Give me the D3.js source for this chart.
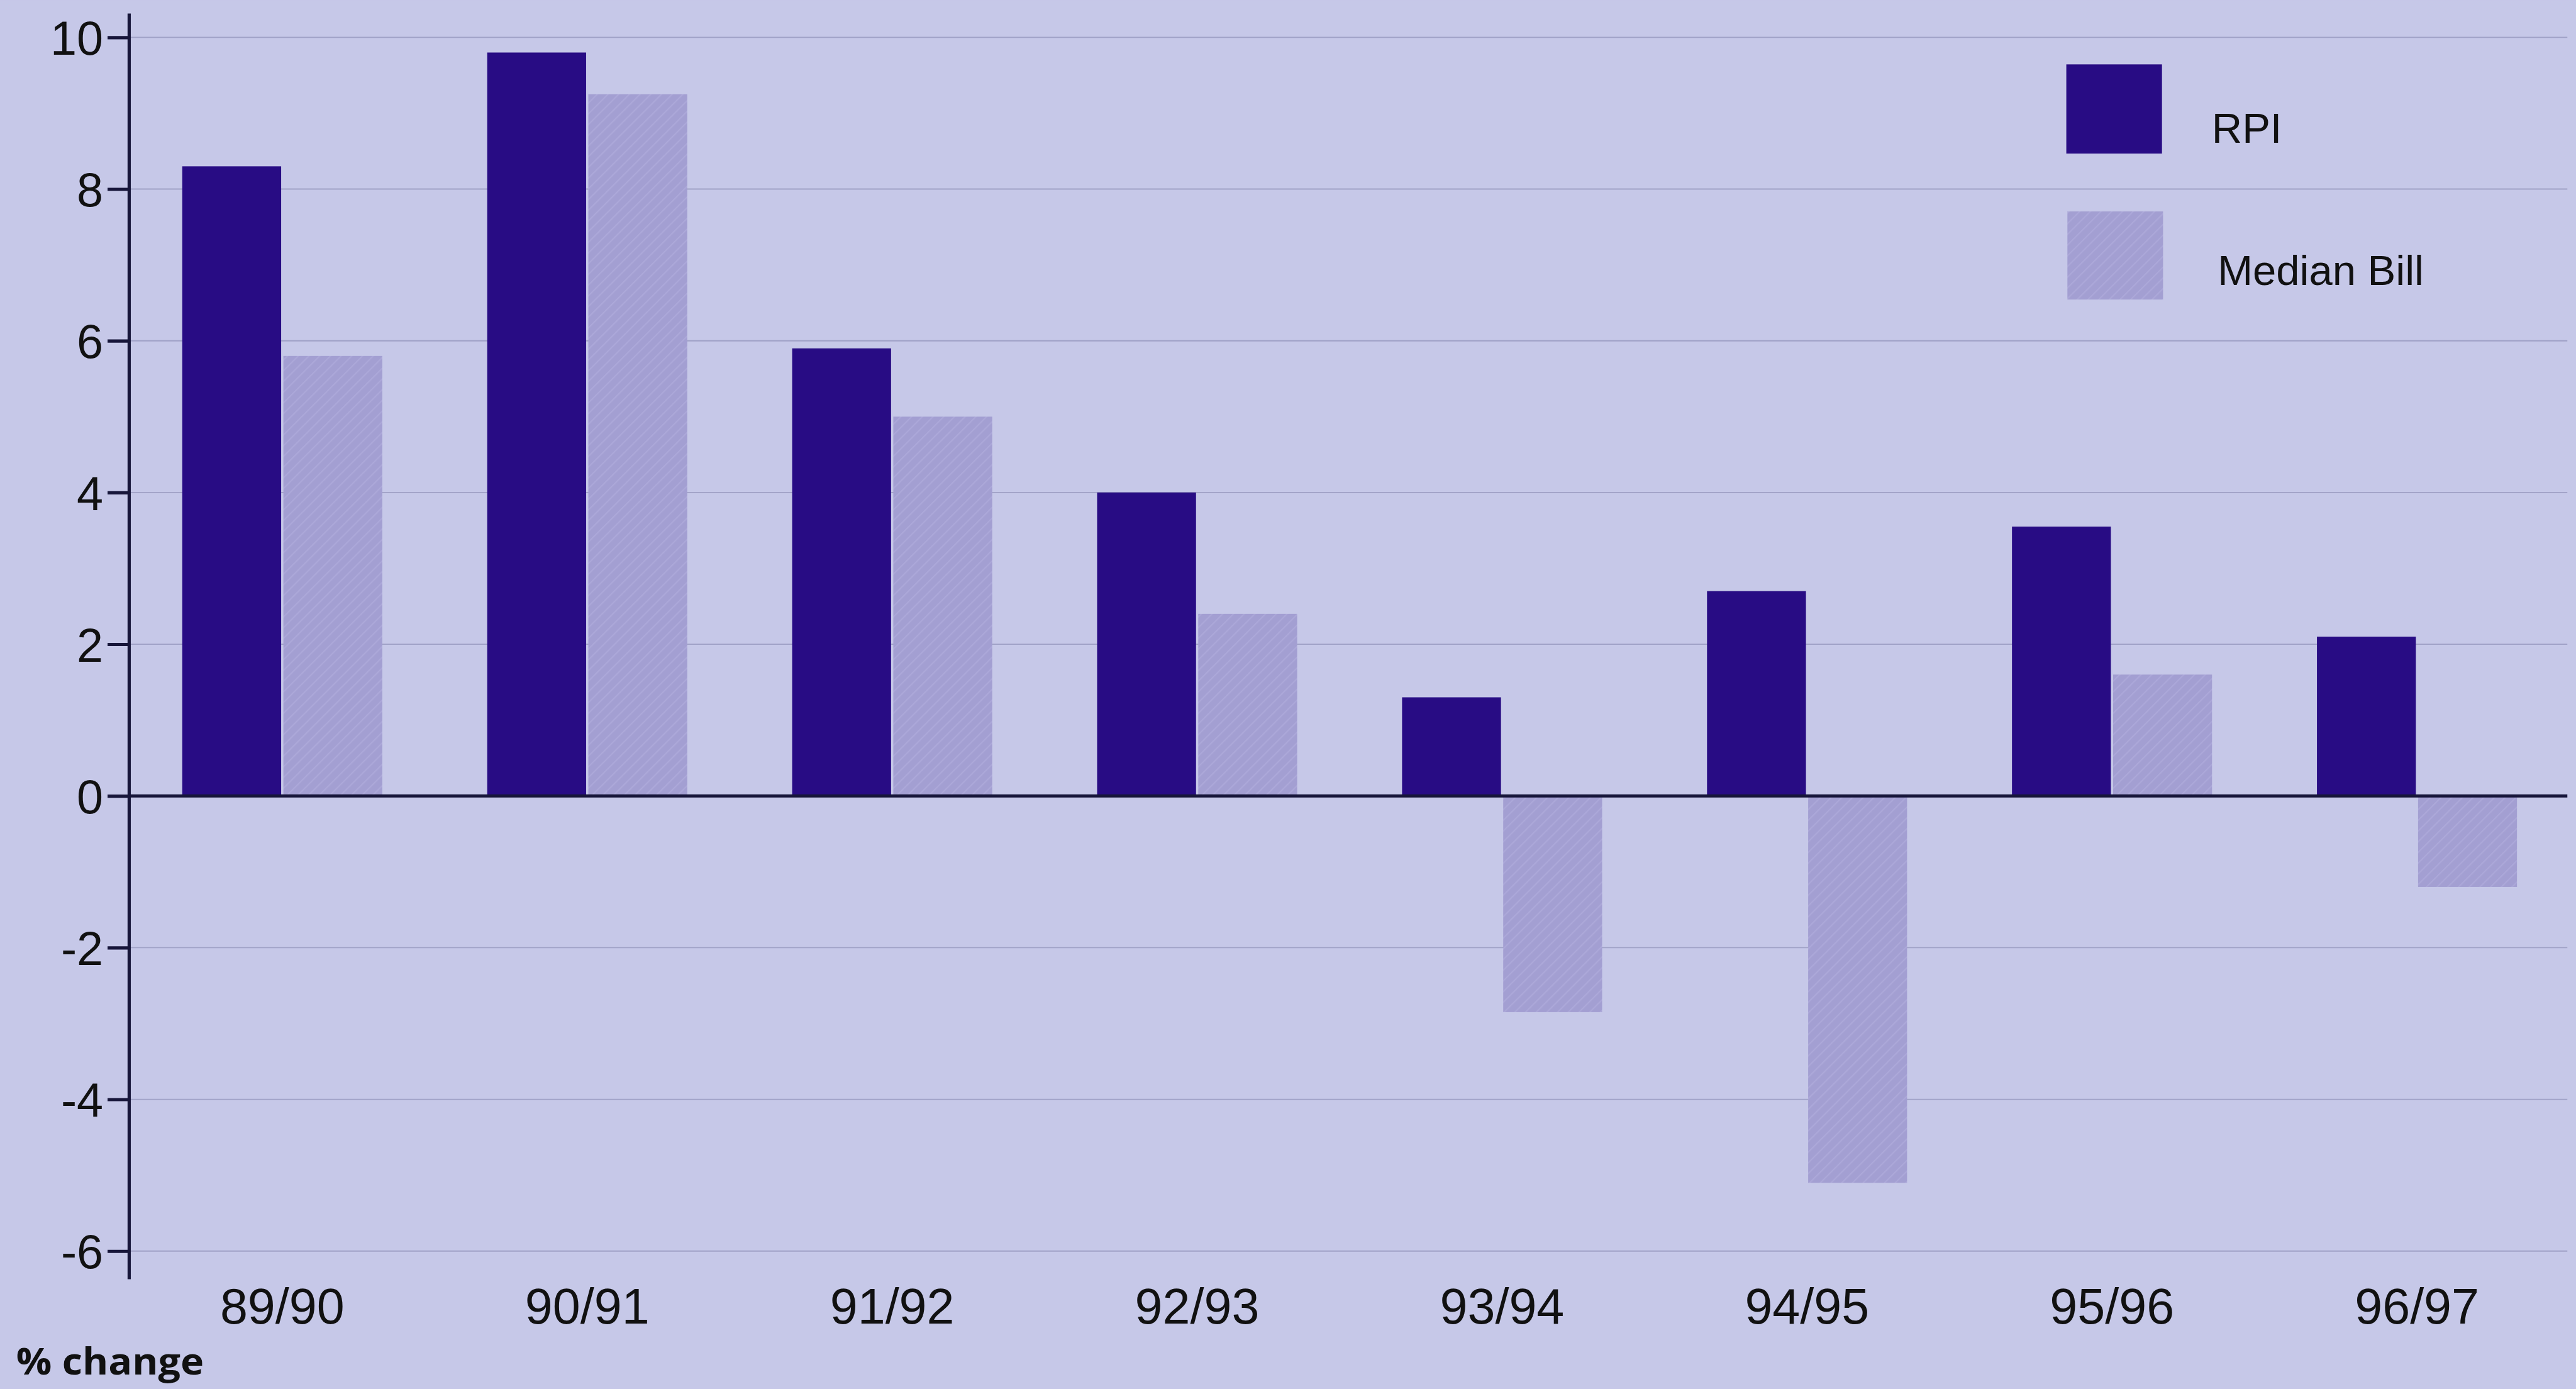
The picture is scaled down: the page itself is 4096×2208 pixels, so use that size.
<!DOCTYPE html>
<html>
<head>
<meta charset="utf-8">
<script src="https://cdn.jsdelivr.net/npm/d3@7"></script>
<style>
  html, body { margin: 0; padding: 0; background: #c6c8e8; overflow: hidden; }
  svg { display: block; }
</style>
</head>
<body>
<svg id="chart" width="4096" height="2208" viewBox="0 0 4766 2569"></svg>
<script>
// ---- data ----
const categories = ["89/90", "90/91", "91/92", "92/93", "93/94", "94/95", "95/96", "96/97"];
const seriesNames = ["RPI", "Median Bill"];
const rpiValues = [8.3, 9.8, 5.9, 4.0, 1.3, 2.7, 3.55, 2.1];
const medianBillValues = [5.8, 9.25, 5.0, 2.4, -2.85, -5.1, 1.6, -1.2];
const yTicks = [-6, -4, -2, 0, 2, 4, 6, 8, 10];
const yTickLabels = ["-6", "-4", "-2", "0", "2", "4", "6", "8", "10"];
const yAxisTitle = "% change";

const colors = { "RPI": "#280c84", "Median Bill": "#a39fd2" };

const svg = d3.select("#chart");
const W = 4766, H = 2569;

// background
svg.append("rect").attr("width", W).attr("height", H).attr("fill", "#c6c8e8");

// hatch pattern for median bill bars
const defs = svg.append("defs");
const pat = defs.append("pattern")
  .attr("id", "hatch").attr("patternUnits", "userSpaceOnUse")
  .attr("width", 14).attr("height", 14)
  .attr("patternTransform", "rotate(45)");
pat.append("rect").attr("width", 14).attr("height", 14).attr("fill", colors["Median Bill"]);
pat.append("line").attr("x1", 0).attr("y1", 0).attr("x2", 0).attr("y2", 14)
  .attr("stroke", "#aca8d9").attr("stroke-width", 5);

const axisX = 239, plotRight = 4755;
const x0 = d3.scaleBand().domain(categories).range([axisX, plotRight])
  .paddingInner(0.344).paddingOuter(0.174);
const x1 = d3.scaleBand().domain(seriesNames).range([0, x0.bandwidth()]).paddingInner(0.022);
const y = d3.scaleLinear().domain([-6, 10]).range([2314, 69]);

const fontMain = "'Liberation Sans', Arial, Helvetica, sans-serif";

// gridlines
svg.append("g").selectAll("line")
  .data(yTicks.filter(d => d !== 0))
  .join("line")
  .attr("x1", axisX).attr("x2", plotRight - 5)
  .attr("y1", d => y(d)).attr("y2", d => y(d))
  .attr("stroke", "#9fa1c6").attr("stroke-width", 2.2);

// bars
const data = categories.map((c, i) => ({ cat: c, vals: [
  { key: "RPI", v: rpiValues[i] },
  { key: "Median Bill", v: medianBillValues[i] }
]}));

const groups = svg.append("g").selectAll("g")
  .data(data).join("g")
  .attr("transform", d => `translate(${x0(d.cat)},0)`);

groups.selectAll("rect")
  .data(d => d.vals).join("rect")
  .attr("x", d => x1(d.key))
  .attr("width", x1.bandwidth())
  .attr("y", d => y(Math.max(0, d.v)))
  .attr("height", d => Math.abs(y(d.v) - y(0)))
  .attr("fill", d => d.key === "RPI" ? colors["RPI"] : "url(#hatch)");

// zero line
svg.append("line")
  .attr("x1", axisX).attr("x2", plotRight - 5)
  .attr("y1", y(0)).attr("y2", y(0))
  .attr("stroke", "#17163a").attr("stroke-width", 6);

// y axis
const yAxis = d3.axisLeft(y).tickValues(yTicks).tickSize(40).tickPadding(8)
  .tickFormat((d, i) => yTickLabels[i]);
const gy = svg.append("g").attr("transform", `translate(${axisX},0)`).call(yAxis);
gy.select(".domain").remove();
gy.selectAll(".tick line").attr("stroke", "#17163a").attr("stroke-width", 6);
gy.selectAll(".tick text")
  .attr("font-family", fontMain).attr("font-size", 88)
  .attr("fill", "#111").attr("dy", "0.36em");
gy.append("line").attr("x1", 0).attr("x2", 0).attr("y1", 25).attr("y2", 2366)
  .attr("stroke", "#17163a").attr("stroke-width", 6);

// x labels
svg.append("g").selectAll("text")
  .data(categories).join("text")
  .attr("x", d => x0(d) + x0.bandwidth() / 2)
  .attr("y", 2448)
  .attr("text-anchor", "middle")
  .attr("font-family", fontMain).attr("font-size", 92)
  .attr("fill", "#111")
  .text(d => d);

// y axis title
svg.append("text")
  .attr("x", 30).attr("y", 2542)
  .attr("font-family", "'Open Sans', 'Lato', sans-serif")
  .attr("font-weight", 700).attr("font-size", 68)
  .attr("textLength", 347).attr("lengthAdjust", "spacingAndGlyphs")
  .attr("fill", "#111")
  .text(yAxisTitle);

// legend
const legend = [
  { key: "RPI", rx: 3823, ry: 119, rw: 177, rh: 165, tx: 4092, ty: 264 },
  { key: "Median Bill", rx: 3825, ry: 391, rw: 177, rh: 163, tx: 4103, ty: 527 }
];
const lg = svg.append("g");
lg.selectAll("rect").data(legend).join("rect")
  .attr("x", d => d.rx).attr("y", d => d.ry)
  .attr("width", d => d.rw).attr("height", d => d.rh)
  .attr("fill", d => d.key === "RPI" ? colors["RPI"] : "url(#hatch)");
lg.selectAll("text").data(legend).join("text")
  .attr("x", d => d.tx).attr("y", d => d.ty)
  .attr("font-family", fontMain).attr("font-size", 78)
  .attr("fill", "#111")
  .text(d => d.key);
</script>
</body>
</html>
